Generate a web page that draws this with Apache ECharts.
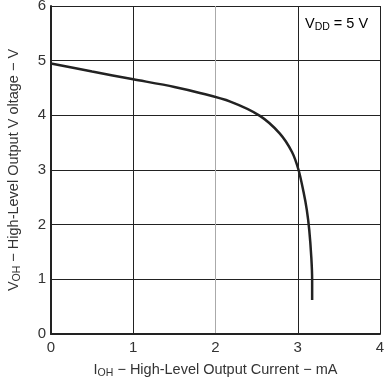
<!DOCTYPE html>
<html>
<head>
<meta charset="utf-8">
<script src="https://cdn.jsdelivr.net/npm/echarts@6/dist/echarts.min.js"></script>
<style>
  html, body { margin: 0; padding: 0; background: #fff; }
  #chart { width: 384px; height: 377px; }
</style>
</head>
<body>
<div id="chart"></div>
<script>
// I_OH (mA) vs V_OH (V)
const currentMA = [0, 0.5, 1, 1.5, 1.81, 2.18, 2.54, 2.78, 2.93, 3.01, 3.07, 3.11, 3.14, 3.165, 3.175, 3.175];
const voltageV = [4.95, 4.8, 4.66, 4.52, 4.41, 4.25, 3.99, 3.67, 3.33, 3.0, 2.6, 2.27, 1.9, 1.4, 0.99, 0.62];

const FONT = 'Liberation Sans';

const chart = echarts.init(document.getElementById('chart'), null, { renderer: 'canvas' });

const points = currentMA.map((x, i) => [x, voltageV[i]]);

const nameRich = {
  a: { fontFamily: FONT, fontSize: 14.5, color: '#333' },
  s: { fontFamily: FONT, fontSize: 10.5, color: '#333', padding: [8, 0, 0, 0] }
};

chart.setOption({
  animation: false,
  grid: { left: 51, top: 6, right: 4, bottom: 43, outerBoundsMode: 'none' },
  xAxis: {
    type: 'value',
    min: 0,
    max: 4,
    interval: 1,
    axisLine: { show: true, lineStyle: { color: '#222', width: 2 } },
    axisTick: { show: false },
    axisLabel: { color: '#333', fontFamily: FONT, fontSize: 15, margin: 6 },
    splitLine: { show: true, lineStyle: { color: ['#222', '#222', '#aaa', '#222', '#222'], width: 1 } },
    name: '{a|I}{s|OH}{a| − High-Level Output Current − mA}',
    nameLocation: 'middle',
    nameGap: 26,
    nameTextStyle: { rich: nameRich }
  },
  yAxis: {
    type: 'value',
    min: 0,
    max: 6,
    interval: 1,
    axisLine: { show: true, lineStyle: { color: '#222', width: 2 } },
    axisTick: { show: false },
    axisLabel: { color: '#333', fontFamily: FONT, fontSize: 15, margin: 5 },
    splitLine: { show: true, lineStyle: { color: '#222', width: 1 } },
    name: '{a|V}{s|OH}{a| − High-Level Output V oltage − V}',
    nameLocation: 'middle',
    nameGap: 28,
    nameTextStyle: { rich: nameRich }
  },
  series: [{
    type: 'line',
    data: points,
    smooth: 0.3,
    symbol: 'none',
    lineStyle: { color: '#222', width: 2.5 },
    z: 5
  }],
  graphic: [{
    type: 'text',
    left: 300,
    top: 9,
    z: 10,
    style: {
      text: '{a|V}{s|DD}{a| = 5 V}',
      backgroundColor: '#fff',
      padding: [5, 7, 5, 5],
      rich: nameRich
    }
  }]
});
</script>
</body>
</html>
